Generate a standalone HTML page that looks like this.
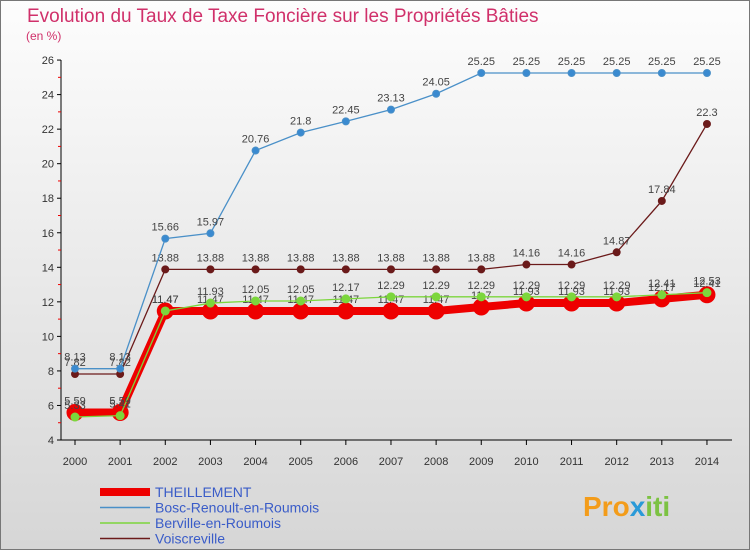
<!DOCTYPE html>
<html><head><meta charset="utf-8"><style>
body{margin:0;width:750px;height:550px;overflow:hidden;font-family:"Liberation Sans",sans-serif}
#c{position:absolute;left:0;top:0}
</style></head><body>
<svg id="c" width="750" height="550" xmlns="http://www.w3.org/2000/svg">
<defs><linearGradient id="bg" x1="0" y1="0" x2="0" y2="1"><stop offset="0" stop-color="#fdfdfd"/><stop offset="1" stop-color="#d6d6d6"/></linearGradient></defs>
<rect x="0.5" y="0.5" width="749" height="549" fill="url(#bg)" stroke="#777"/>
<text x="27" y="22" font-size="19" fill="#d0306a">Evolution du Taux de Taxe Foncière sur les Propriétés Bâties</text>
<text x="26" y="40" font-size="12" fill="#d0306a">(en %)</text>
<g id="axes"></g><g id="series"></g><g id="legend"></g>
<text x="583" y="516" font-size="28" font-weight="bold" fill="#f39c1a">Pro<tspan fill="#2a9ad8">x</tspan><tspan fill="#7cc242">iti</tspan></text>
</svg>
<script>
const years=["2000","2001","2002","2003","2004","2005","2006","2007","2008","2009","2010","2011","2012","2013","2014"];
const yTicks=[4,6,8,10,12,14,16,18,20,22,24,26];
const theillement=[5.59,5.59,11.47,11.47,11.47,11.47,11.47,11.47,11.47,11.7,11.93,11.93,11.93,12.17,12.41];
const bosc=[8.13,8.13,15.66,15.97,20.76,21.8,22.45,23.13,24.05,25.25,25.25,25.25,25.25,25.25,25.25];
const berville=[5.33,5.41,11.47,11.93,12.05,12.05,12.17,12.29,12.29,12.29,12.29,12.29,12.29,12.41,12.53];
const voiscreville=[7.82,7.82,13.88,13.88,13.88,13.88,13.88,13.88,13.88,13.88,14.16,14.16,14.87,17.84,22.3];
const names=["THEILLEMENT","Bosc-Renoult-en-Roumois","Berville-en-Roumois","Voiscreville"];
const NS="http://www.w3.org/2000/svg";
const X=i=>75+i*45.14, Y=v=>440-(v-4)*17.27;
function mk(t,a,p){const e=document.createElementNS(NS,t);for(const k in a)e.setAttribute(k,a[k]);p.appendChild(e);return e;}
const ax=document.getElementById('axes');
const yl=mk('line',{x1:61,y1:60,x2:61,y2:440,stroke:'#000'},ax);


const xl=mk('line',{x1:61,y1:440,x2:732,y2:440,stroke:'#000'},ax);


yTicks.forEach(v=>{mk('line',{x1:57,x2:61,y1:Y(v),y2:Y(v),stroke:'#000'},ax);
if(v<26)mk('line',{x1:58,x2:61,y1:Y(v+1),y2:Y(v+1),stroke:'#e00'},ax);
const t=mk('text',{x:54,y:Y(v)+4,'font-size':11,'text-anchor':'end',fill:'#333'},ax);t.textContent=v;

});
years.forEach((y,i)=>{mk('line',{x1:X(i),x2:X(i),y1:440,y2:445,stroke:'#000'},ax);
const t=mk('text',{x:X(i),y:465,'font-size':11,'text-anchor':'middle',fill:'#333'},ax);t.textContent=y;

});
const sg=document.getElementById('series');
function series(d,col,w,r,fill,name,lab){
const g=mk('g',{},sg);


mk('polyline',{points:d.map((v,i)=>X(i)+','+Y(v)).join(' '),fill:'none',stroke:col,'stroke-width':w},g);
d.forEach((v,i)=>{const c=mk('circle',{cx:X(i),cy:Y(v),r:r,fill:fill,stroke:col,'stroke-width':1},g);


if(lab){const t=mk('text',{x:X(i),y:Y(v)-8,'font-size':11,'text-anchor':'middle',fill:'#444'},g);t.textContent=v;

}});}
series(theillement,'#ee0000',8,8,'#ee0000','series-theillement',true);
series(voiscreville,'#6b1a1a',1.3,3.5,'#6b1a1a','series-voiscreville',true);
series(berville,'#7cd63c',1.3,4,'#7cd63c','series-berville',true);
series(bosc,'#4a90c8',1.3,3.5,'#3a8ad0','series-bosc',true);
const lg=document.getElementById('legend');
const cols=['#ee0000','#4a90c8','#7cd63c','#6b1a1a'],ws=[8,1.5,1.5,1.5];
names.forEach((n,i)=>{const y=492+i*15.5;
const g=mk('g',{},lg);


mk('line',{x1:100,x2:150,y1:y,y2:y,stroke:cols[i],'stroke-width':ws[i]},g);
const t=mk('text',{x:155,y:y+5,'font-size':14,fill:'#3a5cc8'},g);t.textContent=n;});
</script>
</body></html>
